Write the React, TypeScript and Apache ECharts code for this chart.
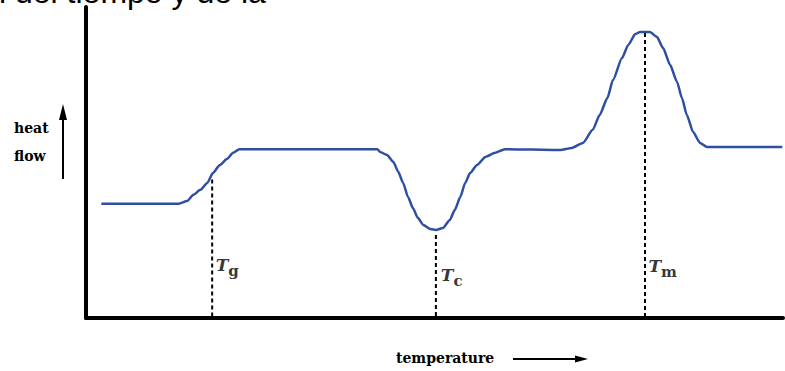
import React, { useEffect, useRef } from "react";
import * as echarts from "echarts";

// DSC thermogram: heat flow against temperature (arbitrary units, 0–100)
const temperature = [
  2.2, 13.3, 14.5, 15.4, 16.4, 17.4, 18.2, 19.2, 20.2, 21.1, 22.0,
  41.8, 42.2, 43.2, 44.1, 44.8, 45.5, 46.2, 46.9, 47.6, 48.4, 49.4, 50.2,
  51.2, 52.2, 52.9, 53.7, 54.4, 55.1, 56.1, 57.3, 58.7, 60.1,
  68.0, 69.7, 71.3, 72.7, 73.7, 74.8, 75.6, 76.9, 77.8, 78.8, 79.5, 80.2,
  80.9, 81.9, 82.8, 83.8, 84.8, 85.5, 86.2, 87.1, 88.1, 89.1, 99.9,
];
const heatFlow = [
  36.7, 36.7, 37.6, 39.6, 41.2, 43.4, 46.6, 49.2, 51.1, 53.1, 54.3,
  54.3, 53.4, 52.4, 50.2, 47.0, 43.4, 38.9, 35.4, 32.2, 29.9, 28.6, 28.3,
  28.9, 31.5, 34.7, 38.9, 43.4, 46.6, 49.2, 51.8, 53.1, 54.3,
  54.0, 54.7, 56.3, 60.5, 65.3, 70.7, 76.5, 83.6, 87.8, 91.3, 92.0, 92.0,
  92.0, 90.4, 86.8, 81.4, 75.9, 70.7, 65.3, 59.8, 56.3, 55.0, 55.0,
];

// transition temperatures: glass transition, crystallisation, melting
const transitionNames = ["g", "c", "m"];
const transitionTemps = [18.1, 50.2, 80.2];
const transitionTops = [44.5, 26.7, 91.6];
const labelTemps = [18.6, 50.9, 80.7];
const labelFlows = [16.1, 12.9, 15.8];

const BLUE = "#2f4fa0";
const SERIF = "'DejaVu Serif', 'Liberation Serif', serif";

export default function App() {
  const ref = useRef<HTMLDivElement>(null);

  useEffect(() => {
    document.body.style.margin = "0";
    if (!ref.current) return;
    const chart = echarts.init(ref.current, null, { renderer: "svg" });

    const curve = temperature.map((t, i) => [t, heatFlow[i]]);

    const dashed = transitionTemps.map((t, i) => ({
      type: "line",
      data: [
        [t, transitionTops[i]],
        [t, 0],
      ],
      symbol: "none",
      lineStyle: { color: "#000", width: 2, type: [4, 3] },
      z: 1,
    }));

    const labels = {
      type: "scatter",
      symbolSize: 0,
      data: transitionNames.map((n, i) => ({
        value: [labelTemps[i], labelFlows[i]],
        label: {
          show: true,
          position: "right",
          distance: 0,
          formatter: `{t|T}{s|${n}}`,
          rich: {
            t: {
              fontFamily: SERIF,
              fontWeight: "bold",
              fontStyle: "italic",
              fontSize: 17,
              color: "#000",
              lineHeight: 22,
              verticalAlign: "top",
            },
            s: {
              fontFamily: SERIF,
              fontWeight: "bold",
              fontSize: 15,
              color: "#000",
              lineHeight: 22,
              verticalAlign: "bottom",
            },
          },
        },
      })),
      z: 3,
    };

    chart.setOption({
      animation: false,
      grid: { left: 86, right: 2, top: 7, bottom: 53 },
      xAxis: {
        type: "value",
        min: 0,
        max: 100,
        axisLine: { show: true, lineStyle: { color: "#000", width: 4 } },
        axisTick: { show: false },
        axisLabel: { show: false },
        splitLine: { show: false },
      },
      yAxis: {
        type: "value",
        min: 0,
        max: 100,
        axisLine: { show: true, lineStyle: { color: "#000", width: 4 } },
        axisTick: { show: false },
        axisLabel: { show: false },
        splitLine: { show: false },
      },
      graphic: [
        {
          type: "text",
          x: -1,
          y: 8,
          style: {
            text: "l del tiempo y de la",
            fontFamily: "'Liberation Sans', Arial, sans-serif",
            fontSize: 32,
            fill: "#000",
            verticalAlign: "bottom",
          },
        },
        {
          type: "text",
          x: 14,
          y: 128,
          style: {
            text: "heat",
            fontFamily: SERIF,
            fontWeight: "bold",
            fontSize: 14,
            fill: "#000",
            verticalAlign: "middle",
          },
        },
        {
          type: "text",
          x: 14,
          y: 156,
          style: {
            text: "flow",
            fontFamily: SERIF,
            fontWeight: "bold",
            fontSize: 14,
            fill: "#000",
            verticalAlign: "middle",
          },
        },
        {
          type: "line",
          shape: { x1: 63, y1: 179, x2: 63, y2: 116 },
          style: { stroke: "#000", lineWidth: 2 },
        },
        {
          type: "polygon",
          shape: { points: [[63, 104], [59, 120], [67, 120]] },
          style: { fill: "#000" },
        },
        {
          type: "text",
          x: 396,
          y: 358,
          style: {
            text: "temperature",
            fontFamily: SERIF,
            fontWeight: "bold",
            fontSize: 14,
            fill: "#000",
            verticalAlign: "middle",
          },
        },
        {
          type: "line",
          shape: { x1: 513, y1: 359, x2: 578, y2: 359 },
          style: { stroke: "#000", lineWidth: 2 },
        },
        {
          type: "polygon",
          shape: { points: [[588, 359], [575, 355.5], [575, 362.5]] },
          style: { fill: "#000" },
        },
      ],
      series: [
        {
          type: "line",
          data: curve,
          symbol: "none",
          smooth: 0.2,
          smoothMonotone: "x",
          lineStyle: { color: BLUE, width: 2.5 },
          z: 2,
        },
        ...dashed,
        labels,
      ],
    });

    return () => chart.dispose();
  }, []);

  return <div ref={ref} style={{ width: 785, height: 371 }} />;
}
